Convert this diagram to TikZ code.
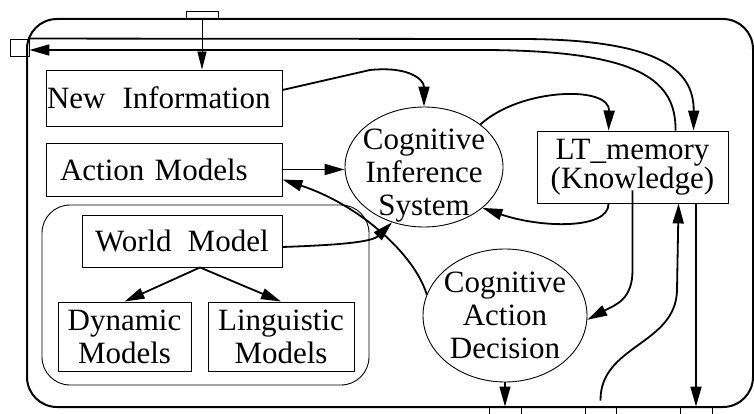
\documentclass[tikz,border=0pt]{standalone}
\usepackage{fontspec}
\setmainfont{Liberation Serif}
\usetikzlibrary{arrows.meta,shapes.geometric,calc}
\begin{document}
\begin{tikzpicture}[x=1pt,y=-1pt,
  every node/.style={font=\fontsize{31}{33}\selectfont},
  box/.style={draw, line width=0.9pt, inner ysep=0pt},
  port/.style={draw, line width=0.9pt, inner sep=0pt},
  ell/.style={draw, ellipse, line width=0.9pt, inner sep=0pt},
  arr/.style={line width=1.8pt, -{Triangle[length=20pt,width=11pt]}},
  tharr/.style={line width=0.9pt, -{Triangle[length=18pt,width=9pt]}}]
\useasboundingbox (0,0) rectangle (754,414);
\clip (0,0) rectangle (754,414);
% containers
\node[draw, line width=2pt, rounded corners=30pt, minimum width=726pt, minimum height=388pt, inner sep=0pt] (outer) at (390,213) {};
\node[draw, line width=0.9pt, rounded corners=28pt, minimum width=327pt, minimum height=180pt, inner sep=0pt] (inner) at (205.5,295) {};
% boxes
\node[box, minimum width=236pt, minimum height=56pt, inner xsep=1pt, text width=234pt, align=left] (newinfo) at (164,98) {New\hspace{17pt}Information};
\node[box, minimum width=236pt, minimum height=53pt, inner xsep=14pt, text width=208pt, align=left] (amodels) at (164,169.5) {Action Models};
\node[box, minimum width=200pt, minimum height=52pt, inner xsep=13pt, text width=174pt, align=left] (wmodel) at (182,241) {World\hspace{16pt}Model};
\node[box, minimum width=133pt, minimum height=69pt, inner xsep=0pt, align=center] (dyn) at (124.5,336.5) {Dynamic\\Models};
\node[box, minimum width=146pt, minimum height=69pt, inner xsep=0pt, align=center] (ling) at (281,336.5) {Linguistic\\Models};
\node[box, minimum width=191pt, minimum height=72pt, inner xsep=0pt, align=center, font={\fontsize{31}{28}\selectfont}] (ltm) at (632.5,167) {LT\_memory\\(Knowledge)};
% ellipses
\node[ell, minimum width=158pt, minimum height=120pt] (cis) at (424,167) {};
\node[align=center] (cist) at (424,176) {Cognitive\\Inference\\System};
\node[ell, minimum width=164pt, minimum height=133pt] (cad) at (505,315.5) {};
\node[align=center] (cadt) at (505,315.5) {Cognitive\\Action\\Decision};
% ports
\node[port, minimum width=32pt, minimum height=8pt] (topin) at (202,15) {};
\node[port, minimum width=19pt, minimum height=17pt] (leftout) at (19.5,47.5) {};
\node[port, minimum width=32pt, minimum height=20pt] (b1) at (505,417) {};
\node[port, minimum width=31pt, minimum height=20pt] (b2) at (600.5,417) {};
\node[port, minimum width=32pt, minimum height=20pt] (b3) at (696,417) {};
% connectors
\draw[tharr] (topin.south) -- (topin.south |- newinfo.north);
\draw[arr] (leftout.north east) -- (520,39) .. controls (660,39) and (694,70) .. ([xshift=157pt]ltm.north west);
\draw[arr] ([xshift=139pt]ltm.north west) .. controls (676,80) and (640,50) .. (480,50) -- ([yshift=-2.5pt]leftout.east);
\draw[arr] ([yshift=8pt]newinfo.east) -- (370,70) .. controls (410,66) and (424,80) .. (cis.north);
\draw[arr] (amodels.east) -- (amodels.east -| cis.west);
\draw[arr] (cad.165) .. controls (415,255) and (360,205) .. ([yshift=-10pt]amodels.east);
\draw[arr] ([yshift=-6pt]wmodel.east) .. controls (340,245) and (372,242) .. (cis.240);
\draw[arr] (cis.37) .. controls (520,88) and (610,85) .. ([xshift=72pt]ltm.north west);
\draw[arr] ([xshift=72pt]ltm.south west) .. controls (609,230) and (540,228) .. (cis.-35);
\draw[arr] ([yshift=13pt]ltm.south) -- ($(ltm.south)+(0,67)$) .. controls (632.5,300) and (615,305) .. (cad.-3);
\draw[arr] ([yshift=6pt]b2.north) .. controls (600,345) and (676,345) .. (677,290) -- ([xshift=142pt]ltm.south west);
\draw[arr] (ltm.south -| b3.north) -- (b3.north);
\draw[arr, line width=1.3pt] (cad.south) -- (cad.south |- b1.north);
\draw[arr] ([xshift=18pt]wmodel.south) -- (dyn.north);
\draw[arr] ([xshift=18pt]wmodel.south) -- (ling.north);
\end{tikzpicture}
\end{document}
